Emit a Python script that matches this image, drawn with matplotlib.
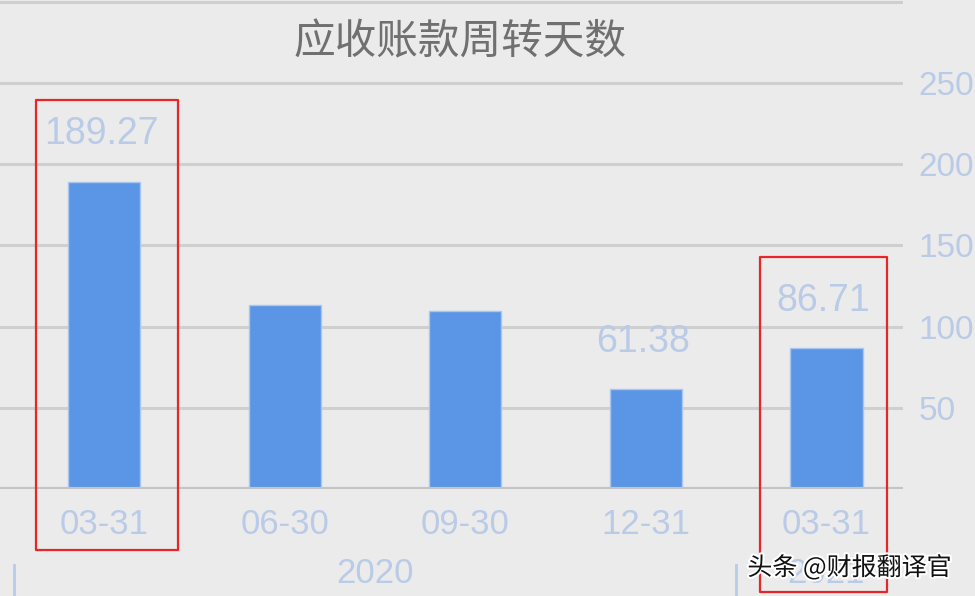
import matplotlib
matplotlib.use("Agg")
import matplotlib.pyplot as plt
import matplotlib.patheffects as pe
from matplotlib.patches import Rectangle

# data
dates = ["03-31", "06-30", "09-30", "12-31", "03-31"]
days = [189.27, 113.3, 109.5, 61.38, 86.71]
shown = [True, False, False, True, True]   # which bars carry a value label
years = ["2020", "2021"]
year_pos = [1.5, 4.0]
year_breaks = [-0.5, 3.5]
y_ticks = [0, 50, 100, 150, 200, 250, 300]
y_labels = ["", "50", "100", "150", "200", "250", ""]

num_font = ["Liberation Sans Narrow", "Liberation Sans", "DejaVu Sans"]
cjk_font = ["Noto Sans CJK SC", "DejaVu Sans"]
bg = "#ebebeb"
pale = "#b9cbe6"

fig = plt.figure(figsize=(9.75, 5.96), dpi=100, facecolor=bg)
ax = fig.add_axes([0, 1 - 489 / 596, 903 / 975, 489 / 596])
ax.set_facecolor(bg)

x = list(range(len(days)))
ax.bar(x, days, width=0.4, color="#5b96e6", edgecolor="#a8c6f0", linewidth=1, zorder=3)
ax.set_xlim(-0.576, 4.424)
ax.set_ylim(0, 301.1)

for xi, v, s in zip(x, days, shown):
    if s:
        ax.annotate(f"{v:.2f}", (xi, v), xytext=(-2, 21), textcoords="offset points",
                    ha="center", va="bottom", fontsize=27, color=pale, family=num_font)

ax.set_yticks(y_ticks)
ax.set_yticklabels(y_labels)
ax.yaxis.tick_right()
ax.tick_params(axis="y", length=0, pad=11, labelsize=24, labelcolor=pale)
for t in ax.get_yticklabels():
    t.set_family(num_font)
ax.grid(axis="y", color="#cfcfcf", linewidth=2.2, zorder=0)
ax.axhline(0, color="#c4c4c4", linewidth=3, zorder=4)

ax.set_xticks(x)
ax.set_xticklabels(dates)
ax.tick_params(axis="x", length=0, pad=14, labelsize=25, labelcolor=pale)
for t in ax.get_xticklabels():
    t.set_family(num_font)

for s in ax.spines.values():
    s.set_visible(False)

# year row under the dates
for yr, p in zip(years, year_pos):
    ax.text(p, -52, yr, ha="center", va="center", fontsize=25, color=pale,
            family=num_font, clip_on=False)
for b in year_breaks:
    ax.plot([b, b], [-47, -70], color=pale, linewidth=2, clip_on=False)

# red highlight boxes
ax.add_patch(Rectangle((-0.377, -37.6), 0.787, 277.1, fill=False, edgecolor="#e8262a",
                       linewidth=1.6, joinstyle="round", clip_on=False, zorder=6))
ax.add_patch(Rectangle((3.632, -63.4), 0.703, 206.3, fill=False, edgecolor="#e8262a",
                       linewidth=1.6, joinstyle="round", clip_on=False, zorder=6))

fig.text(0.472, 1 - 43 / 596, "应收账款周转天数", ha="center", va="center",
         fontsize=30, color="#707070", family=cjk_font)

fig.text(0.976, 1 - 568 / 596, "头条 @财报翻译官", ha="right", va="center",
         fontsize=18, color="#111111", family=cjk_font, zorder=10,
         path_effects=[pe.withStroke(linewidth=3, foreground="white")])

fig.savefig("out.png", dpi=100, facecolor=bg)
